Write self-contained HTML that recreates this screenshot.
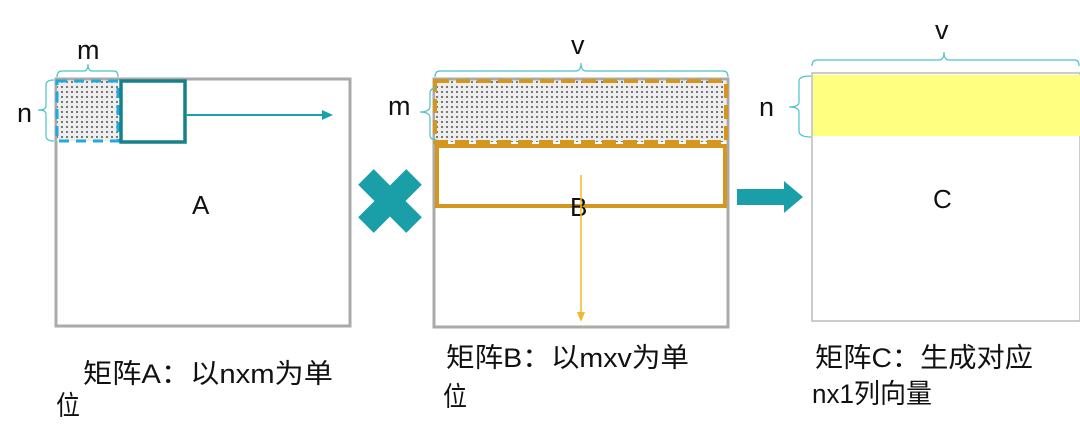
<!DOCTYPE html>
<html><head><meta charset="utf-8"><style>html,body{margin:0;padding:0;background:#fff;}svg{display:block}</style></head>
<body>
<svg width="1080" height="437" viewBox="0 0 1080 437" xmlns="http://www.w3.org/2000/svg">
<defs>
<pattern id="dots" width="5" height="5" patternUnits="userSpaceOnUse">
<rect width="5" height="5" fill="#eeeeee"/><circle cx="2" cy="2" r="0.9" fill="#222"/>
</pattern>
</defs>
<g font-family="Liberation Sans, Noto Sans CJK SC, sans-serif" fill="#111">
<!-- A -->
<rect x="56" y="79" width="294" height="247" fill="#fff" stroke="#aaa" stroke-width="3"/>
<rect x="57" y="81" width="61" height="60" fill="url(#dots)" stroke="#22a8e0" stroke-width="3" stroke-dasharray="10,7"/>
<rect x="121" y="81" width="64" height="61" fill="#fff" stroke="#17808a" stroke-width="3.5"/>
<line x1="186" y1="115" x2="326" y2="115" stroke="#16a3b0" stroke-width="2"/>
<polygon points="333,115 322,110 322,120" fill="#16a3b0"/>
<path d="M57,77 Q57,71 62,71 L84,71 Q88,71 88,64 Q88,71 92,71 L114,71 Q118,71 118,77" fill="none" stroke="#4cc3c8" stroke-width="1.2"/>
<path d="M54,80 Q46,80 46,85 L46,106 Q46,110 38,110 Q46,110 46,114 L46,136 Q46,141 54,141" fill="none" stroke="#4cc3c8" stroke-width="1.2"/>
<text x="77" y="59" font-size="27">m</text>
<text x="17" y="122" font-size="27">n</text>
<text x="192" y="214" font-size="26">A</text>
<!-- X -->
<g transform="translate(390,201) rotate(45)" fill="#1a9ea8">
<rect x="-34" y="-11" width="68" height="22"/><rect x="-11" y="-34" width="22" height="68"/>
</g>
<!-- B -->
<rect x="434" y="79" width="294" height="248" fill="#fff" stroke="#aaa" stroke-width="3"/>
<rect x="435" y="81" width="291" height="61" fill="url(#dots)" stroke="#d4961c" stroke-width="4" stroke-dasharray="14,7"/>
<rect x="437" y="146" width="288" height="60" fill="none" stroke="#d4961c" stroke-width="4"/>
<text x="570" y="216" font-size="26">B</text>
<line x1="581" y1="175" x2="581" y2="314" stroke="#f2b828" stroke-width="1.5"/>
<polygon points="581,322 577,312 585,312" fill="#f2b828"/>
<path d="M435,77 Q435,71 440,71 L576,71 Q581,71 581,63 Q581,71 586,71 L723,71 Q728,71 728,77" fill="none" stroke="#4cc3c8" stroke-width="1.2"/>
<path d="M437,88 Q430,88 430,93 L430,106 Q430,112 420,112 Q430,112 430,118 L430,135 Q430,140 437,140" fill="none" stroke="#4cc3c8" stroke-width="1.2"/>
<text x="571" y="54" font-size="27">v</text>
<text x="388" y="115" font-size="27">m</text>
<!-- arrow -->
<polygon points="737,189 784,189 784,181 803,197 784,213 784,205 737,205" fill="#1a9ea8"/>
<!-- C -->
<rect x="812" y="73" width="268" height="248" fill="#fff" stroke="#bbb" stroke-width="1.5"/>
<rect x="813" y="75" width="267" height="61" fill="#ffff80"/>
<path d="M812,66 Q812,60 817,60 L939,60 Q944,60 944,52 Q944,60 949,60 L1075,60 Q1079,60 1079,66" fill="none" stroke="#4cc3c8" stroke-width="1.2"/>
<path d="M811,76 Q799,76 799,81 L799,102 Q799,107 789,107 Q799,107 799,112 L799,131 Q799,137 811,137" fill="none" stroke="#4cc3c8" stroke-width="1.2"/>
<text x="935" y="39" font-size="27">v</text>
<text x="759" y="116" font-size="27">n</text>
<text x="933" y="208" font-size="26">C</text>
<!-- captions -->
<text x="83" y="383" font-size="27" textLength="250" lengthAdjust="spacingAndGlyphs">矩阵A：以nxm为单</text>
<text x="56" y="415" font-size="27" textLength="24" lengthAdjust="spacingAndGlyphs">位</text>
<text x="446" y="367" font-size="27" textLength="243" lengthAdjust="spacingAndGlyphs">矩阵B：以mxv为单</text>
<text x="443" y="406" font-size="27" textLength="24" lengthAdjust="spacingAndGlyphs">位</text>
<text x="815" y="367" font-size="27" textLength="218" lengthAdjust="spacingAndGlyphs">矩阵C：生成对应</text>
<text x="812" y="403" font-size="27" textLength="120" lengthAdjust="spacingAndGlyphs">nx1列向量</text>
</g>
</svg>
</body></html>
